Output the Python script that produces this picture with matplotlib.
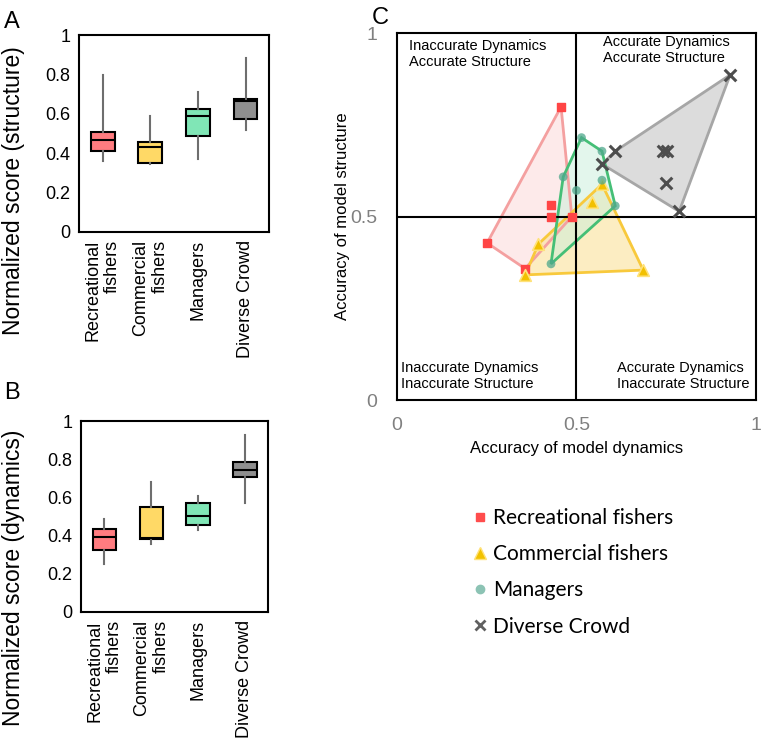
import matplotlib
matplotlib.use("Agg")
import matplotlib.pyplot as plt
from matplotlib.patches import Polygon

plt.rcParams['font.family'] = ['Liberation Sans', 'DejaVu Sans']

# groups shown in all three panels
groups = ["Recreational fishers", "Commercial fishers", "Managers", "Diverse Crowd"]
group_ticks = ["Recreational\nfishers", "Commercial\nfishers", "Managers", "Diverse Crowd"]
box_colors = ["#FF7C80", "#FFD966", "#80E6B6", "#8F8F8F"]

# panel A: normalized structure score (whisker low, q1, median, q3, whisker high)
struct_lo = [0.357, 0.343, 0.369, 0.517]
struct_q1 = [0.409, 0.350, 0.488, 0.571]
struct_med = [0.466, 0.431, 0.586, 0.664]
struct_q3 = [0.507, 0.456, 0.624, 0.676]
struct_hi = [0.796, 0.589, 0.710, 0.882]

# panel B: normalized dynamics score
dyn_lo = [0.251, 0.357, 0.429, 0.572]
dyn_q1 = [0.327, 0.381, 0.455, 0.707]
dyn_med = [0.394, 0.388, 0.505, 0.745]
dyn_q3 = [0.435, 0.550, 0.570, 0.785]
dyn_hi = [0.486, 0.683, 0.608, 0.927]

# panel C: accuracy of dynamics (x) and structure (y) for each model
rec_x = [0.457, 0.429, 0.429, 0.487, 0.251, 0.357]
rec_y = [0.799, 0.531, 0.500, 0.500, 0.428, 0.358]
com_x = [0.571, 0.543, 0.394, 0.357, 0.686]
com_y = [0.588, 0.540, 0.425, 0.341, 0.354]
man_x = [0.514, 0.571, 0.463, 0.500, 0.571, 0.608, 0.429]
man_y = [0.715, 0.678, 0.608, 0.571, 0.599, 0.529, 0.371]
div_x = [0.928, 0.608, 0.571, 0.740, 0.751, 0.749, 0.786]
div_y = [0.886, 0.678, 0.643, 0.678, 0.678, 0.590, 0.514]


def convex_hull(xs, ys):
    # monotone chain, returns hull vertices in order
    pts = sorted(set(zip(xs, ys)))
    def cross(o, a, b):
        return (a[0] - o[0]) * (b[1] - o[1]) - (a[1] - o[1]) * (b[0] - o[0])
    lower, upper = [], []
    for p in pts:
        while len(lower) >= 2 and cross(lower[-2], lower[-1], p) <= 0:
            lower.pop()
        lower.append(p)
    for p in reversed(pts):
        while len(upper) >= 2 and cross(upper[-2], upper[-1], p) <= 0:
            upper.pop()
        upper.append(p)
    return lower[:-1] + upper[:-1]


def box_panel(ax, lo, q1, med, q3, hi, ylabel, label_xy):
    stats = []
    for i in range(len(groups)):
        stats.append(dict(whislo=lo[i], q1=q1[i], med=med[i], q3=q3[i], whishi=hi[i], fliers=[]))
    b = ax.bxp(stats, positions=[1, 2, 3, 4], widths=0.5, patch_artist=True, showcaps=False,
               boxprops=dict(edgecolor='black', linewidth=1.5),
               medianprops=dict(color='black', linewidth=1.5),
               whiskerprops=dict(color='#6e6e6e', linewidth=1.5))
    for patch, c in zip(b['boxes'], box_colors):
        patch.set_facecolor(c)
    ax.set_xlim(0.5, 4.5)
    ax.set_ylim(0, 1)
    ax.set_yticks([0, 0.2, 0.4, 0.6, 0.8, 1])
    ax.set_yticklabels(['0', '0.2', '0.4', '0.6', '0.8', '1'])
    ax.set_xticks([1, 2, 3, 4])
    ax.set_xticklabels(group_ticks, rotation=90, multialignment='right')
    ax.tick_params(axis='both', length=0, labelsize=13, pad=6)
    ax.set_ylabel(ylabel, fontsize=16.5)
    # the label sits lower than the middle of the box in the original
    ax.yaxis.set_label_coords(label_xy[0], label_xy[1])
    for s in ax.spines.values():
        s.set_linewidth(1.5)


fig = plt.figure(figsize=(7.62, 7.39), dpi=100)

ax_a = fig.add_axes([0.1037, 0.6865, 0.2497, 0.2661])
box_panel(ax_a, struct_lo, struct_q1, struct_med, struct_q3, struct_hi,
          "Normalized score (structure)", (-0.285, 0.21))

ax_b = fig.add_axes([0.1063, 0.1719, 0.2458, 0.2584])
box_panel(ax_b, dyn_lo, dyn_q1, dyn_med, dyn_q3, dyn_hi,
          "Normalized score (dynamics)", (-0.30, 0.18))

# panel C
ax_c = fig.add_axes([0.521, 0.4587, 0.4711, 0.4966])
ax_c.set_xlim(0, 1)
ax_c.set_ylim(0, 1)

poly_styles = [
    (div_x, div_y, '#A6A6A6', '#D4D4D4', 0.8),
    (rec_x, rec_y, '#F4A0A0', '#FDDCDC', 0.6),
    (com_x, com_y, '#F8C93C', '#FBE19A', 0.6),
    (man_x, man_y, '#45BF76', '#C9EEDA', 0.5),
]
for xs, ys, edge, face, a in poly_styles:
    hull = convex_hull(xs, ys)
    ax_c.add_patch(Polygon(hull, closed=True, facecolor=face, alpha=a, edgecolor='none', zorder=1))
    ax_c.add_patch(Polygon(hull, closed=True, facecolor='none', edgecolor=edge, linewidth=2, zorder=2))

ax_c.axhline(0.5, color='black', linewidth=1.5, zorder=3)
ax_c.axvline(0.5, color='black', linewidth=1.5, zorder=3)

ax_c.scatter(rec_x, rec_y, marker='s', s=38, color='#FF4545', zorder=4, label=groups[0])
ax_c.scatter(com_x, com_y, marker='^', s=70, color='#F2C000', edgecolor='#FFE27A', linewidth=1.2,
             zorder=4, label=groups[1])
ax_c.scatter(man_x, man_y, marker='o', s=40, color='#4FA88C', alpha=0.75, edgecolor='none',
             zorder=4, label=groups[2])
ax_c.scatter(div_x, div_y, marker='x', s=70, color='#4D4D4D', linewidth=2.2, zorder=5, label=groups[3])

qfs = 10.5
ax_c.text(0.033, 0.985, "Inaccurate Dynamics\nAccurate Structure", fontsize=qfs, va='top', ha='left')
ax_c.text(0.574, 0.994, "Accurate Dynamics\nAccurate Structure", fontsize=qfs, va='top', ha='left')
ax_c.text(0.011, 0.025, "Inaccurate Dynamics\nInaccurate Structure", fontsize=qfs, va='bottom', ha='left')
ax_c.text(0.613, 0.025, "Accurate Dynamics\nInaccurate Structure", fontsize=qfs, va='bottom', ha='left')

ax_c.set_xticks([0, 0.5, 1])
ax_c.set_xticklabels(['0', '0.5', '1'])
ax_c.set_yticks([0, 0.5, 1])
ax_c.set_yticklabels(['0', '0.5', '1'])
ax_c.tick_params(axis='both', length=0, labelsize=14, labelcolor='#808080')
ax_c.tick_params(axis='y', pad=14)
ax_c.tick_params(axis='x', pad=12)
ax_c.set_xlabel("Accuracy of model dynamics", fontsize=12, labelpad=5)
ax_c.set_ylabel("Accuracy of model structure", fontsize=12, labelpad=0)
for s in ax_c.spines.values():
    s.set_linewidth(1.5)

# legend below panel C
h_rec = plt.Line2D([], [], marker='s', linestyle='none', markersize=6, color='#FF4D4D')
h_com = plt.Line2D([], [], marker='^', linestyle='none', markersize=8, color='#F2C200',
                   markeredgecolor='#FFE27A')
h_man = plt.Line2D([], [], marker='o', linestyle='none', markersize=6, color='#8CC3B4')
h_div = plt.Line2D([], [], marker='x', linestyle='none', markersize=7, color='#606060',
                   markeredgewidth=2)
fig.legend([h_rec, h_com, h_man, h_div], groups, loc='upper left',
           bbox_to_anchor=(0.594, 0.338), frameon=False, handlelength=0.8, handletextpad=0.25,
           labelspacing=0.78, prop=dict(family='Lato', size=15))

fig.text(0.005, 0.985, "A", fontsize=17, va='top', ha='left')
fig.text(0.005, 0.483, "B", fontsize=17, va='top', ha='left')
fig.text(0.488, 0.99, "C", fontsize=17, va='top', ha='left')

fig.savefig("out.png", dpi=100)
